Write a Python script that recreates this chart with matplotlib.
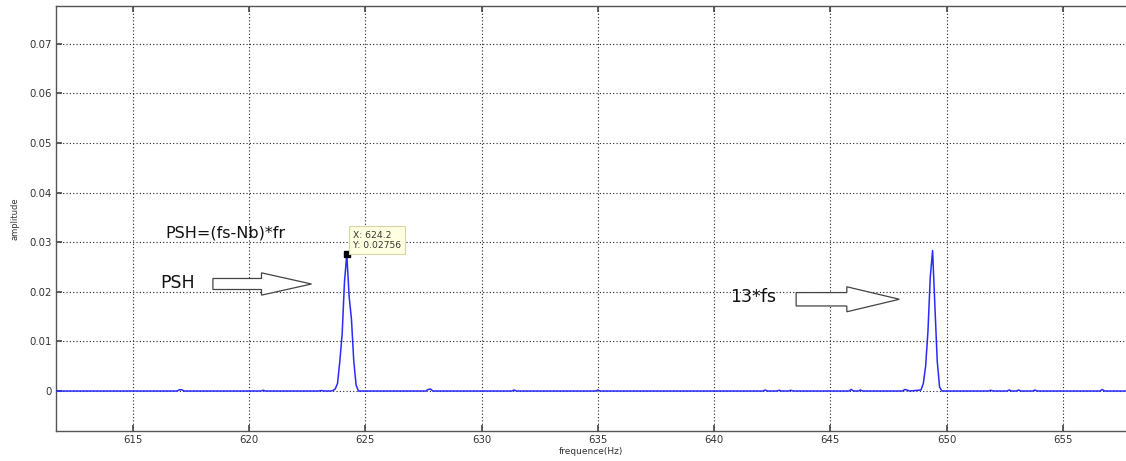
import matplotlib
matplotlib.use("Agg")
import matplotlib.pyplot as plt
from matplotlib.patches import FancyArrow

# ---- data ----
freq = [611.7, 616.9, 617.0, 617.1, 617.2, 620.5, 620.6, 620.7,
        623.0, 623.1, 623.2, 623.5, 623.6, 623.7, 623.8, 623.9, 624.0,
        624.1, 624.2, 624.3, 624.4, 624.5, 624.6, 624.7,
        627.6, 627.7, 627.8, 627.9, 631.3, 631.4, 631.5, 634.9, 635.0, 635.1,
        642.1, 642.2, 642.3, 642.7, 642.8, 642.9, 643.2, 643.3, 643.4,
        645.8, 645.9, 646.0, 646.2, 646.3, 646.4, 648.1, 648.2, 648.3, 648.4,
        648.9, 649.0, 649.1, 649.2, 649.3, 649.4, 649.5, 649.6, 649.7, 649.8,
        651.8, 651.9, 652.0, 652.6, 652.7, 652.8, 653.0, 653.1, 653.2,
        653.7, 653.8, 653.9, 656.6, 656.7, 656.8, 657.8]
amp = [0.0, 0.0, 0.00025, 0.00025, 0.0, 0.0, 0.00015, 0.0,
       0.0, 0.0001, 0.0, 0.0, 0.0001, 0.0004, 0.0015, 0.006, 0.0115,
       0.022, 0.02756, 0.019, 0.0145, 0.006, 0.0012, 0.0,
       0.0, 0.0003, 0.0004, 0.0, 0.0, 0.0002, 0.0, 0.0, 0.0002, 0.0,
       0.0, 0.0002, 0.0, 0.0, 0.00015, 0.0, 0.0, 0.00015, 0.0,
       0.0, 0.0003, 0.0, 0.0, 0.0002, 0.0, 0.0, 0.0003, 0.0002, 0.0,
       0.0002, 0.0015, 0.005, 0.012, 0.023, 0.0283, 0.017, 0.006, 0.0008, 0.0,
       0.0, 0.00015, 0.0, 0.0, 0.0002, 0.0, 0.0, 0.0002, 0.0,
       0.0, 0.0002, 0.0, 0.0, 0.0003, 0.0, 0.0]

x_ticks = [615, 620, 625, 630, 635, 640, 645, 650, 655]
y_ticks = [0, 0.01, 0.02, 0.03, 0.04, 0.05, 0.06, 0.07]
y_tick_labels = ["0", "0.01", "0.02", "0.03", "0.04", "0.05", "0.06", "0.07"]

tip_x, tip_y = 624.2, 0.02756

fig = plt.figure(figsize=(11.26, 4.61), dpi=100)
ax = fig.add_axes([56 / 1126, 30 / 461, 1070 / 1126, 425 / 461])

ax.plot(freq, amp, color="#2a2aff", lw=1.1, zorder=3)

ax.set_xlim(611.69, 657.72)
ax.set_ylim(-0.00806, 0.0776)
ax.set_xticks(x_ticks)
ax.set_xticklabels([str(t) for t in x_ticks])
ax.set_yticks(y_ticks)
ax.set_yticklabels(y_tick_labels)

ax.grid(True, color="#222222", linestyle=(0, (1, 2)), lw=0.8)
ax.tick_params(axis="both", direction="in", length=4, width=1.2,
               color="#444444", labelsize=7.3, labelcolor="#333333", pad=3)
ax.tick_params(axis="x", top=True)
for s in ["left", "bottom", "top"]:
    ax.spines[s].set_color("#555555")
    ax.spines[s].set_linewidth(1.0)
ax.spines["right"].set_visible(False)

ax.set_xlabel("frequence(Hz)", fontsize=6.5, color="#333333", labelpad=1)
ax.set_ylabel("amplitude", fontsize=6, color="#333333", labelpad=7)

# data tip
ax.plot([tip_x], [tip_y], marker="s", ms=5, color="black", zorder=5)
ax.annotate(f"X: {tip_x}\nY: {tip_y}", xy=(tip_x, tip_y), xytext=(6, 4),
            textcoords="offset pixels", ha="left", va="bottom",
            fontsize=6.6, color="#333333", linespacing=1.25,
            bbox=dict(boxstyle="square,pad=0.45", fc="#ffffe1", ec="#d8d4a8", lw=0.8),
            zorder=6)

# text annotations
ax.text(616.38, 0.03185, "PSH=(fs-Nb)*fr", fontsize=11.5, ha="left", va="center", color="#111111")
ax.text(616.16, 0.02177, "PSH", fontsize=12.5, ha="left", va="center", color="#111111")
ax.text(640.69, 0.01885, "13*fs", fontsize=12.5, ha="left", va="center", color="#111111")

# block arrows
ax.add_patch(FancyArrow(618.44, 0.02157, 4.24, 0, width=0.00222, head_width=0.0045,
                        head_length=2.15, length_includes_head=True,
                        fc="white", ec="#444444", lw=0.9, zorder=4))
ax.add_patch(FancyArrow(643.53, 0.01849, 4.44, 0, width=0.0027, head_width=0.00504,
                        head_length=2.26, length_includes_head=True,
                        fc="white", ec="#444444", lw=0.9, zorder=4))

fig.savefig("out.png", dpi=100)
